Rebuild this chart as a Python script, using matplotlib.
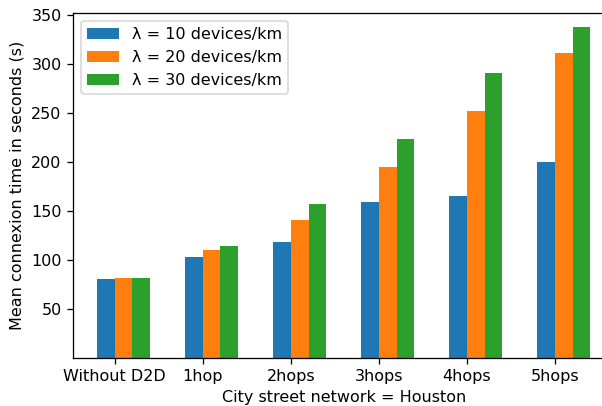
import numpy as np
import matplotlib.pyplot as plt

# mean connexion time per scenario, one list per device density
scenarios = ['Without D2D', '1hop', '2hops', '3hops', '4hops', '5hops']
lambda_10 = [80, 103, 118, 159, 165, 200]
lambda_20 = [81, 110, 140, 195, 252, 311]
lambda_30 = [81, 114, 157, 223, 290, 337]
series_labels = ['λ = 10 devices/km', 'λ = 20 devices/km', 'λ = 30 devices/km']

x = np.arange(len(scenarios))
width = 0.2

dpi = 115
fig = plt.figure(figsize=(602 / dpi, 406 / dpi), dpi=dpi)
ax = fig.add_axes([0.121, 0.119, 0.902, 0.85])

ax.bar(x - width / 2, lambda_10, width, color='tab:blue', label=series_labels[0])
ax.bar(x + width / 2, lambda_20, width, color='tab:orange', label=series_labels[1])
ax.bar(x + 3 * width / 2, lambda_30, width, color='tab:green', label=series_labels[2])

ax.set_xticks(x)
ax.set_xticklabels(scenarios)
ax.set_yticks([50, 100, 150, 200, 250, 300, 350])
ax.set_xlim(-0.476, 5.69)
ax.set_ylim(0, 352)
ax.spines['right'].set_visible(False)
ax.set_xlabel('City street network = Houston')
ax.set_ylabel('Mean connexion time in seconds (s)')
ax.legend(loc='upper left')

plt.savefig('out.png', dpi=dpi)
